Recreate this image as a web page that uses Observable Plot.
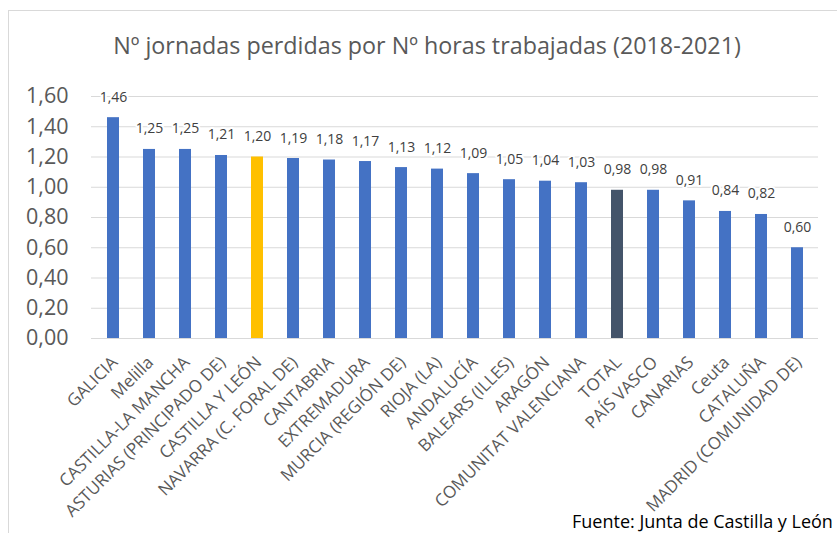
<!DOCTYPE html>
<html><head><meta charset="utf-8">
<script src="https://cdn.jsdelivr.net/npm/d3@7"></script>
<script src="https://cdn.jsdelivr.net/npm/@observablehq/plot@0.6"></script>
<style>
body{margin:0;background:#fff;width:837px;height:533px;overflow:hidden;position:relative;font-family:"Open Sans",sans-serif}
#frame{position:absolute;left:8px;top:10px;width:900px;height:600px;border:1.5px solid #d9d9d9}
#title{position:absolute;left:17px;width:820px;top:30px;text-align:center;font-size:23.3px;color:#595959;white-space:nowrap;line-height:30px}
#chart{position:absolute;left:0;top:70px}
#source{position:absolute;left:572px;top:509px;font-size:18px;color:#000;white-space:nowrap;line-height:24px}
</style></head><body>
<div id="frame"></div>
<div id="title">Nº jornadas perdidas por Nº horas trabajadas (2018-2021)</div>
<div id="chart"></div>
<div id="source">Fuente: Junta de Castilla y León</div>
<script>
const regions = ["GALICIA","Melilla","CASTILLA-LA MANCHA","ASTURIAS (PRINCIPADO DE)","CASTILLA Y LEÓN","NAVARRA (C. FORAL DE)","CANTABRIA","EXTREMADURA","MURCIA (REGIÓN DE)","RIOJA (LA)","ANDALUCÍA","BALEARS (ILLES)","ARAGÓN","COMUNITAT VALENCIANA","TOTAL","PAÍS VASCO","CANARIAS","Ceuta","CATALUÑA","MADRID (COMUNIDAD DE)"];
const values = [1.46,1.25,1.25,1.21,1.20,1.19,1.18,1.17,1.13,1.12,1.09,1.05,1.04,1.03,0.98,0.98,0.91,0.84,0.82,0.60];
const yTicks = [0,0.2,0.4,0.6,0.8,1.0,1.2,1.4,1.6];
const highlightRegion = "CASTILLA Y LEÓN";
const totalRegion = "TOTAL";

const data = regions.map((r,i)=>({region:r, value:values[i]}));
const fmt = v => v.toFixed(2).replace(".", ",");
const colorOf = r => r === highlightRegion ? "#FFC000" : r === totalRegion ? "#44546A" : "#4472C4";

const plot = Plot.plot({
  width:837, height:400,
  marginLeft:91, marginRight:19, marginTop:26, marginBottom:132,
  style:{fontFamily:"'Open Sans', sans-serif", background:"transparent", overflow:"visible"},
  x:{domain:regions, paddingInner:0.68, paddingOuter:0.34, axis:null},
  y:{domain:[0,1.6], axis:null},
  marks:[
    Plot.gridY(yTicks,{stroke:"#d9d9d9", strokeOpacity:1, strokeWidth:1.2}),
    Plot.axisY(yTicks,{tickSize:0, tickPadding:23, tickFormat:fmt, fontSize:21.5, fill:"#595959", label:null}),
    Plot.barY(data,{x:"region", y:"value", fill:d=>colorOf(d.region)}),
    Plot.text(data,{x:"region", y:"value", text:d=>fmt(d.value), dy:-16, lineAnchor:"bottom", fontSize:14, fill:"#404040", stroke:"white", strokeWidth:4}),
    Plot.text(regions,{x:d=>d, y:d=>0, text:d=>d, rotate:-45, textAnchor:"end", lineAnchor:"bottom", dx:5, dy:25, fontSize:17, fill:"#595959"})
  ]
});
document.getElementById("chart").appendChild(plot);
</script>
</body></html>
